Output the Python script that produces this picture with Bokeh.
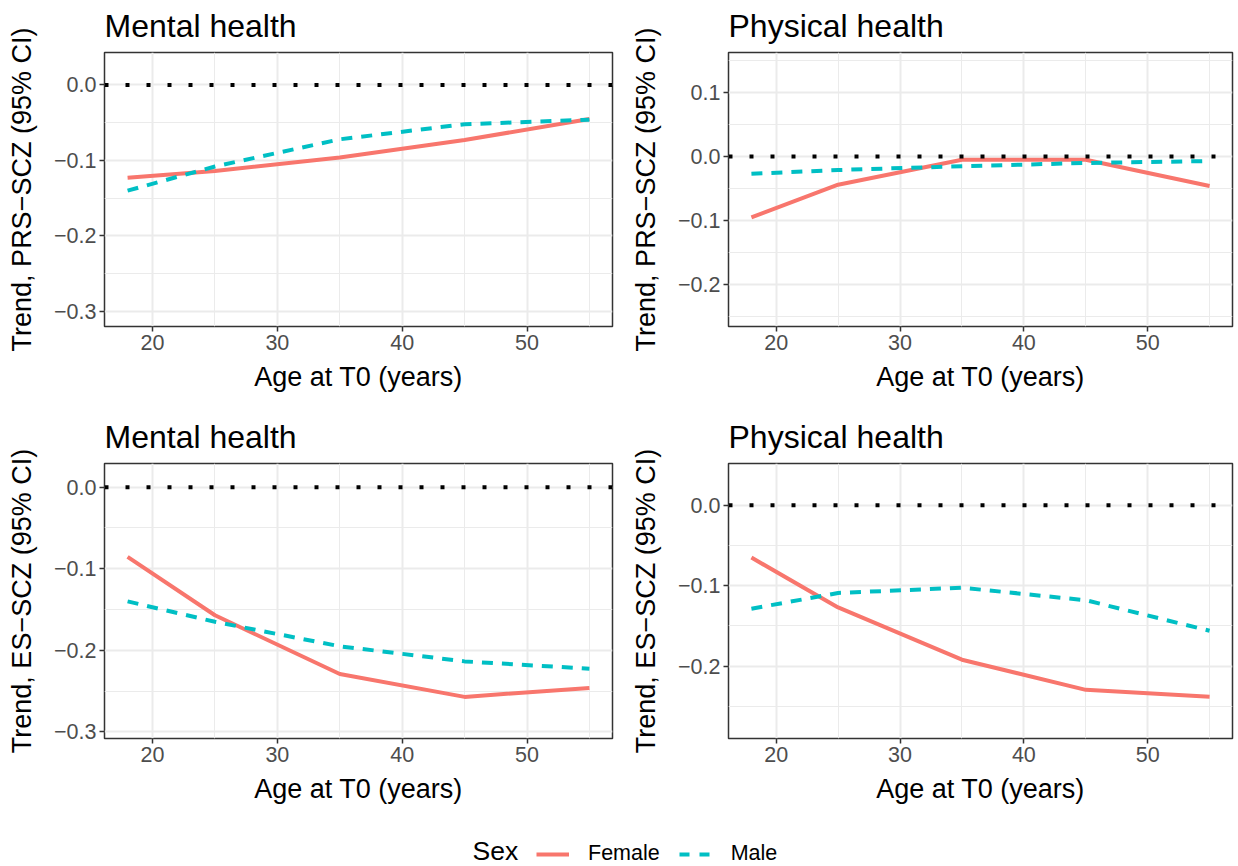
from bokeh.plotting import figure
from bokeh.layouts import gridplot, column
from bokeh.models import FixedTicker, Legend, LegendItem, Label, Span, Range1d
from bokeh.embed import file_html
from bokeh.resources import INLINE

# ---------------- data ----------------
ages = [18, 25, 35, 45, 55]

prs_mental_female = [-0.123, -0.114, -0.096, -0.073, -0.045]
prs_mental_male = [-0.140, -0.108, -0.072, -0.052, -0.046]

prs_physical_female = [-0.095, -0.044, -0.005, -0.005, -0.046]
prs_physical_male = [-0.027, -0.021, -0.015, -0.010, -0.007]

es_mental_female = [-0.0855, -0.157, -0.229, -0.257, -0.246]
es_mental_male = [-0.140, -0.165, -0.195, -0.2135, -0.2225]

es_physical_female = [-0.065, -0.127, -0.192, -0.2295, -0.238]
es_physical_male = [-0.1286, -0.109, -0.1025, -0.118, -0.156]

x_ticks = [20, 30, 40, 50]
x_minor = [25, 35, 45, 55]

y_ticks_prs_mental = [0.0, -0.1, -0.2, -0.3]
y_ticks_prs_physical = [0.1, 0.0, -0.1, -0.2]
y_ticks_es_mental = [0.0, -0.1, -0.2, -0.3]
y_ticks_es_physical = [0.0, -0.1, -0.2]

y_minor_prs_mental = [-0.05, -0.15, -0.25]
y_minor_prs_physical = [0.15, 0.05, -0.05, -0.15, -0.25]
y_minor_es_mental = [-0.05, -0.15, -0.25]
y_minor_es_physical = [-0.05, -0.15, -0.25]

sex_labels = ["Female", "Male"]

FONT = "Liberation Sans"
FEMALE = "#F8766D"
MALE = "#00BFC4"
GRID = "#EBEBEB"
DARK = "#333333"
DASH = "11 9"


def fmt(v):
    s = "%.1f" % v
    return s.replace("-", "\u2212")


def make_panel(title, ylabel, female, male, yrange, yticks, yminor,
               width, height, left, right, top, bottom):
    p = figure(width=width, height=height,
               x_range=Range1d(16.15, 56.85), y_range=Range1d(*yrange),
               output_backend="svg", toolbar_location=None,
               min_border_left=left, min_border_right=right,
               min_border_top=top, min_border_bottom=bottom)
    p.background_fill_color = "white"
    p.border_fill_color = "white"
    p.outline_line_color = DARK
    p.outline_line_width = 1.5

    p.title.text = title
    p.title.text_font = FONT
    p.title.text_font_size = "32px"
    p.title.text_font_style = "normal"
    p.title.text_color = "black"
    p.title.align = "left"
    p.title.vertical_align = "top"
    p.title.standoff = top - 38

    xt = FixedTicker(ticks=x_ticks, minor_ticks=x_minor)
    yt = FixedTicker(ticks=yticks, minor_ticks=yminor)
    p.xaxis.ticker = xt
    p.yaxis.ticker = yt
    p.xgrid.ticker = xt
    p.ygrid.ticker = yt
    p.yaxis.major_label_overrides = {v: fmt(v) for v in yticks}
    p.xaxis.major_label_overrides = {v: str(v) for v in x_ticks}

    for ax in (p.xaxis[0], p.yaxis[0]):
        ax.axis_line_color = None
        ax.major_tick_line_color = DARK
        ax.major_tick_line_width = 1.5
        ax.major_tick_out = 5
        ax.major_tick_in = 0
        ax.minor_tick_line_color = None
        ax.major_label_text_font = FONT
        ax.major_label_text_font_size = "21.5px"
        ax.major_label_text_color = "#4D4D4D"
        ax.major_label_standoff = 3
        ax.axis_label_text_font = FONT
        ax.axis_label_text_font_size = "27px"
        ax.axis_label_text_font_style = "normal"
        ax.axis_label_text_color = "black"
    p.xaxis.axis_label = "Age at T0 (years)"
    p.yaxis.axis_label = ylabel
    p.xaxis.axis_label_standoff = 9
    p.yaxis.axis_label_standoff = 14

    for g in (p.xgrid[0], p.ygrid[0]):
        g.grid_line_color = GRID
        g.grid_line_width = 2
        g.minor_grid_line_color = GRID
        g.minor_grid_line_width = 1

    p.line(ages, female, line_color=FEMALE, line_width=4)
    p.line(ages, male, line_color=MALE, line_width=4, line_dash=DASH)

    p.add_layout(Span(location=0, dimension="width", line_color="black",
                      line_width=4, line_dash="4 17"))
    return p


LW, RW = 620, 618
TOP_H, BOT_H = 412, 408

p1 = make_panel("Mental health", "Trend, PRS\u2212SCZ (95% CI)",
                prs_mental_female, prs_mental_male, (-0.320, 0.043),
                y_ticks_prs_mental, y_minor_prs_mental,
                LW, TOP_H, 104, 8, 52, 86)
p2 = make_panel("Physical health", "Trend, PRS\u2212SCZ (95% CI)",
                prs_physical_female, prs_physical_male, (-0.266, 0.163),
                y_ticks_prs_physical, y_minor_prs_physical,
                RW, TOP_H, 108, 6, 52, 86)
p3 = make_panel("Mental health", "Trend, ES\u2212SCZ (95% CI)",
                es_mental_female, es_mental_male, (-0.308, 0.029),
                y_ticks_es_mental, y_minor_es_mental,
                LW, BOT_H, 104, 8, 51, 82)
p4 = make_panel("Physical health", "Trend, ES\u2212SCZ (95% CI)",
                es_physical_female, es_physical_male, (-0.290, 0.052),
                y_ticks_es_physical, y_minor_es_physical,
                RW, BOT_H, 108, 6, 51, 82)

grid = gridplot([[p1, p2], [p3, p4]], toolbar_location=None)

# legend strip
nan = float("nan")
lg = figure(width=LW + RW, height=46, output_backend="svg",
            toolbar_location=None, x_range=Range1d(0, 1), y_range=Range1d(0, 1),
            min_border=0)
lg.axis.visible = False
lg.grid.visible = False
lg.outline_line_color = None
rf = lg.line([nan], [nan], line_color=FEMALE, line_width=4)
rm = lg.line([nan], [nan], line_color=MALE, line_width=4, line_dash="10 10")
legend = Legend(items=[LegendItem(label=sex_labels[0], renderers=[rf]),
                       LegendItem(label=sex_labels[1], renderers=[rm])],
                orientation="horizontal", location=(536, 0),
                glyph_width=33, glyph_height=24, label_height=24,
                label_standoff=19, spacing=19, padding=0, margin=0,
                border_line_color=None, background_fill_alpha=0,
                label_text_font=FONT, label_text_font_size="21.5px",
                label_text_color="black")
lg.add_layout(legend, "center")
lg.add_layout(Label(x=472, y=1, x_units="screen", y_units="screen", text="Sex",
                    text_font=FONT, text_font_size="26.5px", text_color="black"))

layout = column(grid, lg)
open("out.html", "w").write(file_html(layout, INLINE))
